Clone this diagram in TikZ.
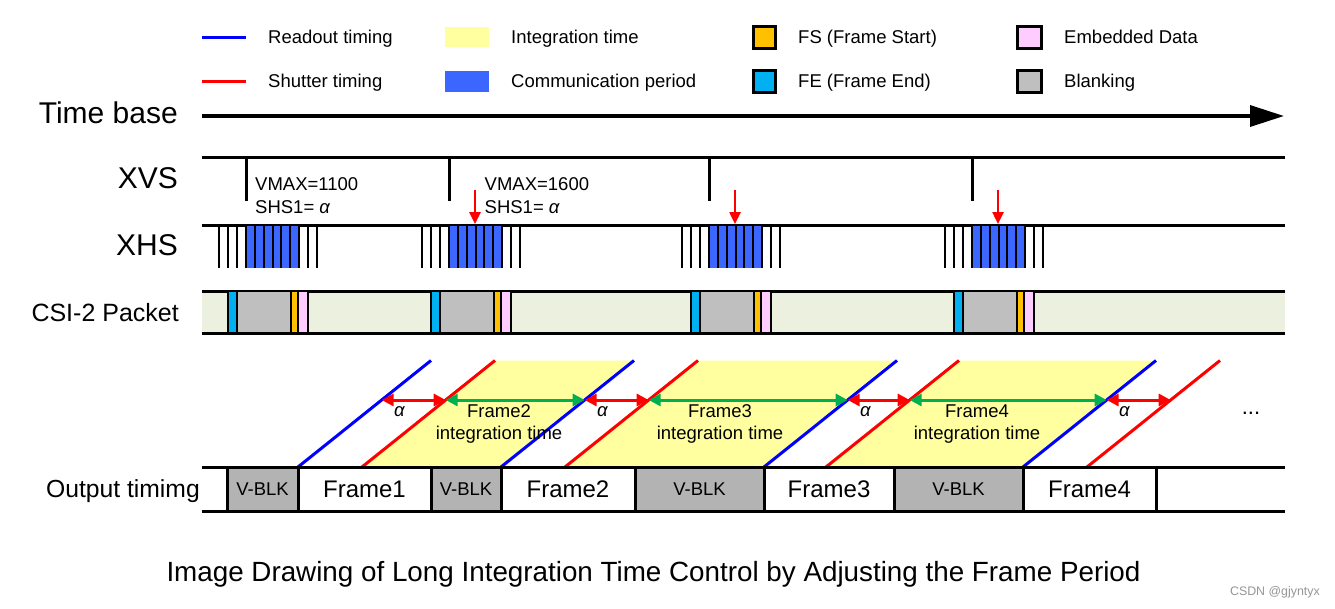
\documentclass[tikz,border=0pt]{standalone}
\usepackage{fontspec}
\setmainfont{Liberation Sans}
\usetikzlibrary{arrows.meta,calc}
\definecolor{yellowI}{RGB}{255,255,160}
\definecolor{commBlue}{RGB}{59,102,255}
\definecolor{fsOrange}{RGB}{255,192,0}
\definecolor{feCyan}{RGB}{0,176,240}
\definecolor{embPink}{RGB}{255,204,255}
\definecolor{blankGray}{RGB}{191,191,191}
\definecolor{csiGreen}{RGB}{235,241,222}
\definecolor{vblkGray}{RGB}{179,179,179}
\definecolor{grnArrow}{RGB}{0,176,80}
\definecolor{wmGray}{RGB}{150,150,150}
\newcommand\fsz[1]{\fontsize{#1}{#1}\selectfont}
\begin{document}
\begin{tikzpicture}[x=1pt,y=-1pt,
  thk/.style={line width=3pt},
  pulse/.style={line width=2.7pt},
  bl/.style={draw=blue,line width=3pt},
  rd/.style={draw=red,line width=3pt},
  lbl/.style={inner sep=0pt,font=\fsz{18.5}},
  legsq/.style={draw=none,inner sep=0pt,outer sep=0pt,minimum width=44pt,minimum height=20pt},
  smsq/.style={draw=black,line width=3pt,inner sep=0pt,outer sep=0pt,minimum height=22pt},
  csib/.style={draw=black,line width=2.5pt},
  obox/.style={draw=black,line width=3pt,inner sep=0pt,outer sep=0pt,minimum height=44pt},
  ared/.style={draw=red,line width=3pt,{Triangle[length=12pt,width=12pt]}-{Triangle[length=12pt,width=12pt]}},
  agrn/.style={draw=grnArrow,line width=3pt,{Triangle[length=12pt,width=12pt]}-{Triangle[length=12pt,width=12pt]}},
  adown/.style={draw=red,line width=2.5pt,-{Triangle[length=12pt,width=11pt]}}
]
\useasboundingbox[fill=white] (0,0) rectangle (1335,608);

% ---------------- legend ----------------
\coordinate (lbA) at (202,37); \coordinate (lbB) at (246,37);
\coordinate (lrA) at (202,81); \coordinate (lrB) at (246,81);
\draw[bl] (lbA) -- (lbB);
\draw[rd] (lrA) -- (lrB);
\node[legsq,fill=yellowI] (sqInt) at (467,37) {};
\node[legsq,fill=commBlue,minimum height=21pt] (sqComm) at (467,81.5) {};
\node[smsq,fill=fsOrange,minimum width=22pt] (sqFS) at (764.5,37.5) {};
\node[smsq,fill=feCyan,minimum width=22pt] (sqFE) at (764.5,81.5) {};
\node[smsq,fill=embPink,minimum width=24pt] (sqEmb) at (1029.5,37.5) {};
\node[smsq,fill=blankGray,minimum width=24pt] (sqBlk) at (1029.5,81.5) {};
\node[lbl,anchor=base west] (tRead) at (268,43.6) {Readout timing};
\node[lbl,anchor=base west] (tShut) at (268,87.6) {Shutter timing};
\node[lbl,anchor=base west] (tInt) at (511,43.6) {Integration time};
\node[lbl,anchor=base west] (tComm) at (511,87.6) {Communication period};
\node[lbl,anchor=base west] (tFS) at (798,43.6) {FS (Frame Start)};
\node[lbl,anchor=base west] (tFE) at (798,87.6) {FE (Frame End)};
\node[lbl,anchor=base west] (tEmb) at (1064,43.6) {Embedded Data};
\node[lbl,anchor=base west] (tBlk) at (1064,87.6) {Blanking};

% ---------------- row labels ----------------
\node[inner sep=0pt,font=\fsz{30},anchor=base east] (lTime) at (178,123.7) {Time base};
\node[inner sep=0pt,font=\fsz{30},anchor=base east] (lXVS) at (178,188.7) {XVS};
\node[inner sep=0pt,font=\fsz{30},anchor=base east] (lXHS) at (178,255.7) {XHS};
\node[inner sep=0pt,font=\fsz{25},anchor=base east] (lCSI) at (179,321) {CSI-2 Packet};
\node[inner sep=0pt,font=\fsz{24.7},anchor=base east] (lOut) at (200,497) {Output timimg};

% ---------------- time base ----------------
\coordinate (tb0) at (202,116); \coordinate (tb1) at (1284,116);
\draw[line width=3.5pt,-{Triangle[length=34pt,width=21pt]}] (tb0) -- (tb1);

% ---------------- XVS / XHS ----------------
\coordinate (xv0) at (202,157); \coordinate (xv1) at (1285,157);
\coordinate (xh0) at (202,225); \coordinate (xh1) at (1285,225);
\draw[thk] (xv0) -- (xv1);
\draw[thk] (xh0) -- (xh1);

% CSI band
\fill[csiGreen] (202,291) rectangle (1285,333);
\coordinate (cs0) at (202,291); \coordinate (cs1) at (1285,291);
\coordinate (cb0) at (202,333); \coordinate (cb1) at (1285,333);
\draw[thk] (cs0) -- (cs1);
\draw[thk] (cb0) -- (cb1);

\foreach \i/\x in {1/246,2/449,3/709,4/972}{
  \coordinate (vt\i) at (\x,157); \coordinate (vb\i) at (\x,201);
  \draw[thk] (vt\i) -- (vb\i);
  \fill[commBlue] (\x,226) rectangle (\x+53,268);
  \foreach \d in {-27,-18,-9,0,9,18,27,35,44,53,62,71}
    \draw[pulse] (\x+\d,225) -- (\x+\d,268);
  \draw[csib,fill=feCyan] (\x-18,291) rectangle (\x-9,333);
  \draw[csib,fill=blankGray] (\x-9,291) rectangle (\x+45,333);
  \draw[csib,fill=fsOrange] (\x+45,291) rectangle (\x+52,333);
  \draw[csib,fill=embPink] (\x+52,291) rectangle (\x+62,333);
}
\foreach \i/\x in {2/449,3/709,4/972}{
  \coordinate (ra\i) at (\x+26,190); \coordinate (rb\i) at (\x+26,224);
  \draw[adown] (ra\i) -- (rb\i);
}

% VMAX texts
\node[lbl,anchor=base west] (vm1) at (255,190.6) {VMAX=1100};
\node[lbl,anchor=base west] (sh1) at (255,213.4) {SHS1= \textit{α}};
\node[lbl,anchor=base west] (vm2) at (484.5,190.6) {VMAX=1600};
\node[lbl,anchor=base west] (sh2) at (484.5,213.4) {SHS1= \textit{α}};

% ---------------- readout / shutter diagonals ----------------
\foreach \i/\b/\r in {1/298/362,2/501/565,3/764/826,4/1023/1087}{
  \coordinate (bs\i) at (\b,467); \coordinate (be\i) at (\b+133,360.5);
  \coordinate (rs\i) at (\r,467); \coordinate (re\i) at (\r+133,360.5);
  \coordinate (bm\i) at (\b+83.7,400); \coordinate (rm\i) at (\r+83.7,400);
}
\fill[yellowI] (rs1) -- (re1) -- (be2) -- (bs2) -- cycle;
\fill[yellowI] (rs2) -- (re2) -- (be3) -- (bs3) -- cycle;
\fill[yellowI] (rs3) -- (re3) -- (be4) -- (bs4) -- cycle;
\foreach \i in {1,2,3,4}{
  \draw[bl] (bs\i) -- (be\i);
  \draw[rd] (rs\i) -- (re\i);
  \draw[ared] (bm\i) -- (rm\i);
}
\draw[agrn] (rm1) -- (bm2);
\draw[agrn] (rm2) -- (bm3);
\draw[agrn] (rm3) -- (bm4);

\foreach \i/\b in {1/298,2/501,3/764,4/1023}
  \node[lbl,anchor=base] (al\i) at (\b+101.5,416) {\textit{α}};

\node[lbl,anchor=base] (f2a) at (499,417.6) {Frame2};
\node[lbl,anchor=base] (f2b) at (499,439) {integration time};
\node[lbl,anchor=base] (f3a) at (720,417.6) {Frame3};
\node[lbl,anchor=base] (f3b) at (720,439) {integration time};
\node[lbl,anchor=base] (f4a) at (977,417.6) {Frame4};
\node[lbl,anchor=base] (f4b) at (977,439) {integration time};
\node[inner sep=0pt,font=\fsz{22},anchor=base] (dots) at (1251,414) {...};

% ---------------- output timing ----------------
\coordinate (ot0) at (202,467.5); \coordinate (ot1) at (1285,467.5);
\coordinate (ob0) at (202,511.5); \coordinate (ob1) at (1285,511.5);
\draw[thk] (ot0) -- (ot1);
\draw[thk] (ob0) -- (ob1);
\node[obox,fill=vblkGray,minimum width=71pt,font=\fsz{18.5}] (vblk1) at (262.5,489.5) {V-BLK};
\node[obox,fill=white,minimum width=133pt,font=\fsz{24}] (fr1) at (364.5,489.5) {Frame1};
\node[obox,fill=vblkGray,minimum width=70pt,font=\fsz{18.5}] (vblk2) at (466,489.5) {V-BLK};
\node[obox,fill=white,minimum width=134pt,font=\fsz{24}] (fr2) at (568,489.5) {Frame2};
\node[obox,fill=vblkGray,minimum width=129pt,font=\fsz{18.5}] (vblk3) at (699.5,489.5) {V-BLK};
\node[obox,fill=white,minimum width=130pt,font=\fsz{24}] (fr3) at (829,489.5) {Frame3};
\node[obox,fill=vblkGray,minimum width=129pt,font=\fsz{18.5}] (vblk4) at (958.5,489.5) {V-BLK};
\node[obox,fill=white,minimum width=133pt,font=\fsz{24}] (fr4) at (1089.5,489.5) {Frame4};

% ---------------- caption ----------------
\node[inner sep=0pt,font=\fsz{27.8},anchor=base] (cap) at (653.5,581) {Image Drawing of Long Integration Time Control by Adjusting the Frame Period};
\node[inner sep=0pt,font=\fsz{12.4},text=wmGray,anchor=base east] (wm) at (1320,595) {CSDN @gjyntyx};
\end{tikzpicture}
\end{document}
